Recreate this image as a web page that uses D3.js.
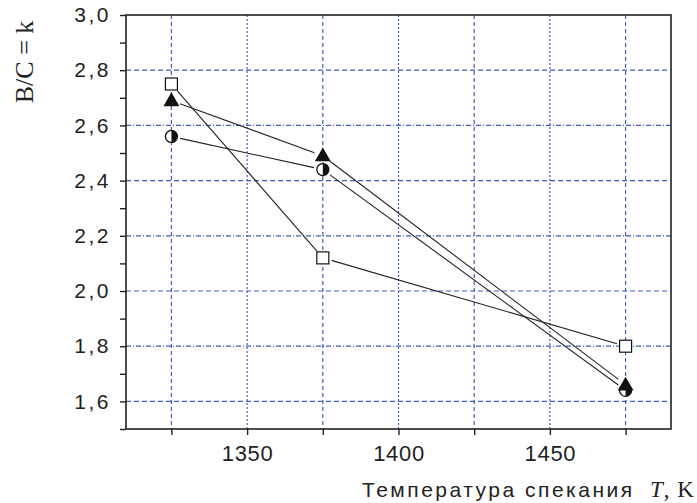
<!DOCTYPE html>
<html>
<head>
<meta charset="utf-8">
<script src="https://cdn.jsdelivr.net/npm/d3@7"></script>
<style>
  body { margin: 0; background: #fff; }
  svg { display: block; }
</style>
</head>
<body>
<script>
const W = 697, H = 503;

// temperatures (K)
const temps = [1325, 1375, 1475];
// B/C = k for each series
const squareVals = [2.75, 2.12, 1.80];
const triangleVals = [2.69, 2.49, 1.66];
const halfCircleVals = [2.56, 2.44, 1.64];

const xTicks = [1350, 1400, 1450];
const xMinor = [1325, 1375, 1425, 1475];
const yTicks = [1.6, 1.8, 2.0, 2.2, 2.4, 2.6, 2.8, 3.0];
const yMinor = [1.5, 1.7, 1.9, 2.1, 2.3, 2.5, 2.7, 2.9];
const xGrid = [1325, 1350, 1375, 1400, 1425, 1450, 1475];
const yGrid = [1.6, 1.8, 2.0, 2.2, 2.4, 2.6, 2.8];

const pLeft = 126, pRight = 671, pTop = 15, pBottom = 429;
const gridColor = "#3f5fb8";
const sans = "'Liberation Sans', Arial, sans-serif";
const serif = "'Liberation Serif', 'Times New Roman', serif";

let svg = d3.select("body").append("svg")
    .attr("width", W)
    .attr("height", H);

let x = d3.scaleLinear().domain([1310, 1490]).range([pLeft, pRight]);
let y = d3.scaleLinear().domain([1.5, 3.0]).range([pBottom, pTop]);

let fmt = d => d.toFixed(1).replace(".", ",");

// grid
svg.append("g").selectAll("line")
    .data(xGrid)
    .enter()
    .append("line")
    .attr("x1", d => x(d)).attr("x2", d => x(d))
    .attr("y1", pTop).attr("y2", pBottom)
    .attr("stroke", gridColor)
    .attr("stroke-width", 1.2)
    .attr("stroke-dasharray", (d, i) => i % 2 ? "2,2" : "4,3");

svg.append("g").selectAll("line")
    .data(yGrid)
    .enter()
    .append("line")
    .attr("x1", pLeft).attr("x2", pRight)
    .attr("y1", d => y(d)).attr("y2", d => y(d))
    .attr("stroke", gridColor)
    .attr("stroke-width", 1.2)
    .attr("stroke-dasharray", (d, i) => i % 2 ? "5,2,1,2" : "5,3");

// axes
let xAxis = d3.axisBottom(x).tickValues(xTicks).tickSize(6).tickPadding(10).tickFormat(d3.format("d"));
let xAxisMinor = d3.axisBottom(x).tickValues(xMinor).tickSize(6).tickFormat("");
let yAxis = d3.axisLeft(y).tickValues(yTicks).tickSize(6).tickPadding(9).tickFormat(fmt);
let yAxisMinor = d3.axisLeft(y).tickValues(yMinor).tickSize(6).tickFormat("");

let gx = svg.append("g")
    .attr("transform", "translate(0," + pBottom + ")")
    .call(xAxis)
    .call(g => g.select(".domain").remove());
svg.append("g")
    .attr("transform", "translate(0," + pBottom + ")")
    .call(xAxisMinor)
    .call(g => g.select(".domain").remove());
let gy = svg.append("g")
    .attr("transform", "translate(" + pLeft + ",0)")
    .call(yAxis)
    .call(g => g.select(".domain").remove());
svg.append("g")
    .attr("transform", "translate(" + pLeft + ",0)")
    .call(yAxisMinor)
    .call(g => g.select(".domain").remove());

svg.selectAll(".tick line").attr("stroke", "#222").attr("stroke-width", 1.4);
gx.selectAll(".tick text")
    .attr("font-family", sans)
    .attr("font-size", 22)
    .attr("letter-spacing", 0.7)
    .attr("fill", "#222");
gy.selectAll(".tick text")
    .attr("font-family", sans)
    .attr("font-size", 21)
    .attr("letter-spacing", 2.5)
    .attr("fill", "#222");

// frame
svg.append("rect")
    .attr("x", pLeft).attr("y", pTop)
    .attr("width", pRight - pLeft).attr("height", pBottom - pTop)
    .attr("fill", "none")
    .attr("stroke", "#222")
    .attr("stroke-width", 1.6);

// connecting lines, stopped short of the markers
function drawLines(vals) {
    let pts = temps.map((t, i) => [x(t), y(vals[i])]);
    for (let i = 0; i < pts.length - 1; i++) {
        let [x1, y1] = pts[i], [x2, y2] = pts[i + 1];
        let dx = x2 - x1, dy = y2 - y1, len = Math.hypot(dx, dy);
        let g = 9;
        svg.append("line")
            .attr("x1", x1 + dx / len * g).attr("y1", y1 + dy / len * g)
            .attr("x2", x2 - dx / len * g).attr("y2", y2 - dy / len * g)
            .attr("stroke", "#222")
            .attr("stroke-width", 1.1);
    }
}
drawLines(squareVals);
drawLines(triangleVals);
drawLines(halfCircleVals);

// half-filled circles
temps.forEach((t, i) => {
    let cx = x(t), cy = y(halfCircleVals[i]), r = 6;
    svg.append("circle")
        .attr("cx", cx).attr("cy", cy).attr("r", r)
        .attr("fill", "#fff").attr("stroke", "#111").attr("stroke-width", 1.3);
    svg.append("path")
        .attr("d", "M" + cx + "," + (cy - r) + " A" + r + "," + r + " 0 0 1 " + cx + "," + (cy + r) + " Z")
        .attr("fill", "#111");
});

// filled triangles
let tri = d3.symbol().type(d3.symbolTriangle).size(110);
temps.forEach((t, i) => {
    svg.append("path")
        .attr("d", tri())
        .attr("transform", "translate(" + x(t) + "," + (y(triangleVals[i]) + 1) + ")")
        .attr("fill", "#111");
});

// open squares
temps.forEach((t, i) => {
    svg.append("rect")
        .attr("x", x(t) - 6).attr("y", y(squareVals[i]) - 6)
        .attr("width", 12).attr("height", 12)
        .attr("fill", "#fff").attr("stroke", "#111").attr("stroke-width", 1.2);
});

// axis titles
svg.append("text")
    .attr("transform", "translate(33,62) rotate(-90)")
    .attr("text-anchor", "middle")
    .attr("font-family", serif)
    .attr("font-size", 26)
    .attr("fill", "#222")
    .text("B/C = k");

svg.append("text")
    .attr("x", 362).attr("y", 497)
    .attr("font-family", sans)
    .attr("font-size", 21)
    .attr("letter-spacing", 2.5)
    .attr("fill", "#222")
    .text("Температура спекания");

let unit = svg.append("text")
    .attr("x", 650).attr("y", 497)
    .attr("font-family", serif)
    .attr("font-size", 23)
    .attr("letter-spacing", 1)
    .attr("fill", "#222");
unit.append("tspan").attr("font-style", "italic").text("T");
unit.append("tspan").text(", K");
</script>
</body>
</html>
